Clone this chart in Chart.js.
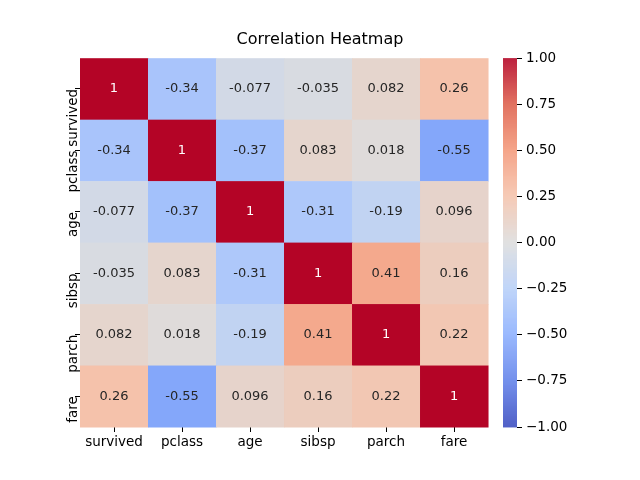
<!DOCTYPE html>
<html>
<head>
<meta charset="utf-8">
<script src="https://cdn.jsdelivr.net/npm/chart.js@4/dist/chart.umd.min.js"></script>
<style>
  html, body { margin: 0; padding: 0; background: #fff; }
</style>
</head>
<body>
<canvas id="c" width="640" height="480"></canvas>
<script>
const labels = ['survived', 'pclass', 'age', 'sibsp', 'parch', 'fare']
const survived = [1, -0.34, -0.077, -0.035, 0.082, 0.26]
const pclass = [-0.34, 1, -0.37, 0.083, 0.018, -0.55]
const age = [-0.077, -0.37, 1, -0.31, -0.19, 0.096]
const sibsp = [-0.035, 0.083, -0.31, 1, 0.41, 0.16]
const parch = [0.082, 0.018, -0.19, 0.41, 1, 0.22]
const fare = [0.26, -0.55, 0.096, 0.16, 0.22, 1]
const rows = [survived, pclass, age, sibsp, parch, fare]
const cbarTicks = [-1, -0.75, -0.5, -0.25, 0, 0.25, 0.5, 0.75, 1]

// coolwarm anchors
const cw = [
  [0, 59, 76, 192], [0.125, 98, 130, 234], [0.25, 141, 176, 254],
  [0.375, 184, 208, 249], [0.5, 221, 221, 221], [0.625, 245, 196, 173],
  [0.75, 244, 154, 123], [0.875, 222, 96, 77], [1, 180, 4, 38]
]
function coolwarm(v) {
  const t = Math.max(0, Math.min(1, (v + 1) / 2))
  for (let i = 1; i < cw.length; i++) {
    if (t <= cw[i][0]) {
      const a = cw[i - 1], b = cw[i]
      const f = (t - a[0]) / (b[0] - a[0])
      return [1, 2, 3].map(k => Math.round(a[k] + (b[k] - a[k]) * f))
    }
  }
  return cw[cw.length - 1].slice(1)
}

const cells = []
rows.forEach((r, i) => r.forEach((v, j) => cells.push({ x: j, y: i, v })))

const heatPlugin = {
  id: 'heat',
  beforeDatasetsDraw(chart) {
    const { ctx, scales: { x, y, cb } } = chart
    ctx.save()
    cells.forEach(c => {
      const x0 = x.getPixelForValue(c.x), x1 = x.getPixelForValue(c.x + 1)
      const y0 = y.getPixelForValue(c.y), y1 = y.getPixelForValue(c.y + 1)
      const col = coolwarm(c.v)
      ctx.fillStyle = `rgb(${col.join(',')})`
      ctx.fillRect(x0, y0, x1 - x0 + 0.5, y1 - y0 + 0.5)
      const lum = (0.299 * col[0] + 0.587 * col[1] + 0.114 * col[2]) / 255
      ctx.fillStyle = lum < 0.5 ? '#fff' : '#262626'
      ctx.font = '13px "DejaVu Sans"'
      ctx.textAlign = 'center'
      ctx.textBaseline = 'middle'
      ctx.fillText(String(c.v).replace('-', '-'), (x0 + x1) / 2, (y0 + y1) / 2)
    })
    // colorbar
    const right = chart.chartArea.right
    const top = cb.getPixelForValue(1), bot = cb.getPixelForValue(-1)
    for (let p = top; p < bot; p++) {
      const v = cb.getValueForPixel(p + 0.5)
      ctx.fillStyle = `rgb(${coolwarm(v).join(',')})`
      ctx.fillRect(right - 14, p, 14, 1.2)
    }
    ctx.restore()
  }
}

new Chart(document.getElementById('c'), {
  type: 'scatter',
  data: { datasets: [{ data: [], pointRadius: 0 }] },
  plugins: [heatPlugin],
  options: {
    responsive: false,
    animation: false,
    layout: { padding: 0 },
    plugins: {
      legend: { display: false },
      tooltip: { enabled: false },
      title: {
        display: true, text: 'Correlation Heatmap', color: '#000',
        font: { family: 'DejaVu Sans', size: 16, weight: 'normal' },
        padding: { top: 30, bottom: 9 }
      }
    },
    scales: {
      x: {
        type: 'linear', min: 0, max: 6.426,
        afterBuildTicks: s => { s.ticks = labels.map((_, i) => ({ value: i + 0.5 })) },
        afterFit: s => { s.height = 53 },
        ticks: {
          color: '#000', font: { family: 'DejaVu Sans', size: 13.5 }, padding: 2,
          callback: (v) => labels[Math.round(v - 0.5)]
        },
        grid: { drawOnChartArea: false, drawTicks: true, tickLength: 5, color: '#000' },
        border: { display: false }
      },
      y: {
        type: 'linear', min: 0, max: 6, reverse: true,
        afterBuildTicks: s => { s.ticks = labels.map((_, i) => ({ value: i + 0.5 })) },
        afterFit: s => { s.width = 80 },
        ticks: {
          color: '#000', font: { family: 'DejaVu Sans', size: 13.5 }, padding: 2,
          minRotation: 90, maxRotation: 90,
          callback: (v) => labels[Math.round(v - 0.5)]
        },
        grid: { drawOnChartArea: false, drawTicks: true, tickLength: 5, color: '#000' },
        border: { display: false }
      },
      cb: {
        type: 'linear', position: 'right', min: -1, max: 1,
        afterBuildTicks: s => { s.ticks = cbarTicks.map(v => ({ value: v })) },
        afterFit: s => { s.width = 123 },
        ticks: {
          color: '#000', font: { family: 'DejaVu Sans', size: 13.5 }, padding: 4,
          callback: v => v.toFixed(2).replace('-', '\u2212')
        },
        grid: { drawOnChartArea: false, drawTicks: true, tickLength: 5, color: '#000' },
        border: { display: false }
      }
    }
  }
})
</script>
</body>
</html>
